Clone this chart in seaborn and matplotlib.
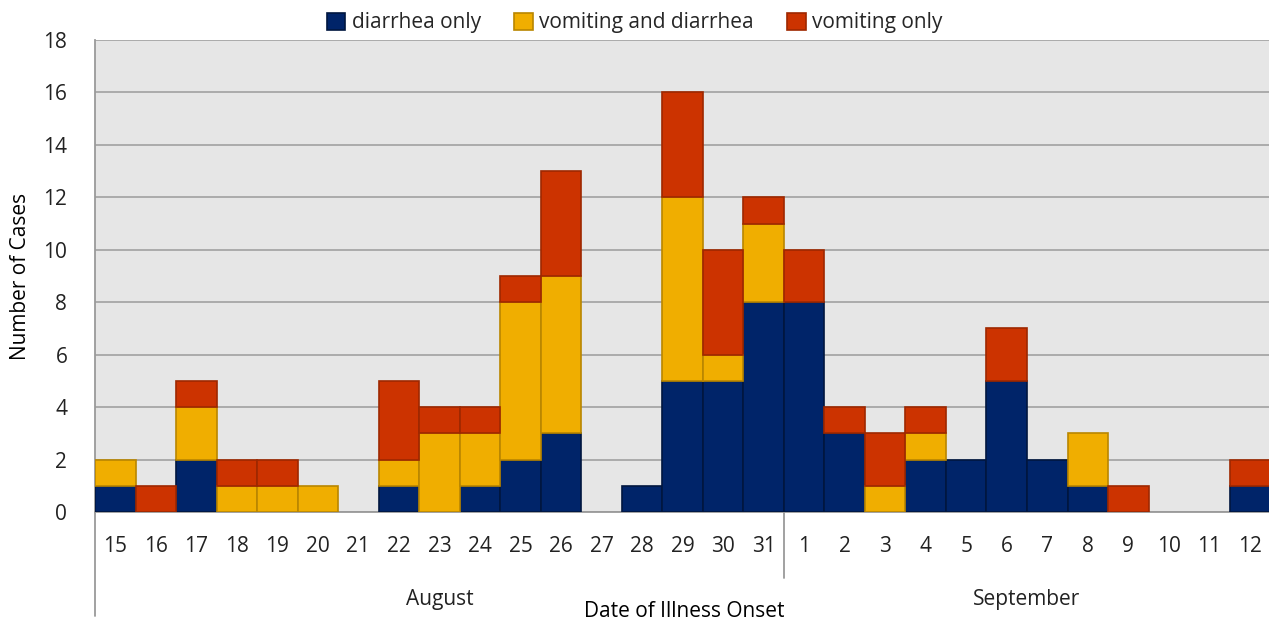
import pandas as pd
import matplotlib.pyplot as plt
import seaborn as sns

# onset days (August 15-31, September 1-12)
aug_days = [15, 16, 17, 18, 19, 20, 21, 22, 23, 24, 25, 26, 27, 28, 29, 30, 31]
sep_days = [1, 2, 3, 4, 5, 6, 7, 8, 9, 10, 11, 12]

diarrhea_only = [1, 0, 2, 0, 0, 0, 0, 1, 0, 1, 2, 3, 0, 1, 5, 5, 8,
                 8, 3, 0, 2, 2, 5, 2, 1, 0, 0, 0, 1]
vomit_and_diarrhea = [1, 0, 2, 1, 1, 1, 0, 1, 3, 2, 6, 6, 0, 0, 7, 1, 3,
                      0, 0, 1, 1, 0, 0, 0, 2, 0, 0, 0, 0]
vomit_only = [0, 1, 1, 1, 1, 0, 0, 3, 1, 1, 1, 4, 0, 0, 4, 4, 1,
              2, 1, 2, 1, 0, 2, 0, 0, 1, 0, 0, 1]

dates = [f"Aug {d}" for d in aug_days] + [f"Sep {d}" for d in sep_days]
tick_labels = [str(d) for d in aug_days + sep_days]

df = pd.DataFrame({
    "date": dates,
    "diarrhea only": diarrhea_only,
    "vomiting and diarrhea": vomit_and_diarrhea,
    "vomiting only": vomit_only,
})

sns.set_theme(style="white")
plt.rcParams["font.family"] = ["Open Sans", "DejaVu Sans"]

fig = plt.figure(figsize=(12.69, 6.21), dpi=100)
ax = fig.add_axes([0.0749, 0.1755, 0.9260, 0.7601])
ax.set_facecolor("#E6E6E6")

series = [
    ("diarrhea only", "#002469", "#00163F"),
    ("vomiting and diarrhea", "#F0AE00", "#B98600"),
    ("vomiting only", "#CC3300", "#9E2800"),
]

bottom = [0] * len(df)
for name, color, edge in series:
    sns.barplot(data=df, x="date", y=name, order=dates, color=color,
                edgecolor=edge, linewidth=1.2, width=1.0, bottom=bottom,
                saturation=1, ax=ax, label=name, zorder=3)
    bottom = [b + v for b, v in zip(bottom, df[name])]

handles, labels = ax.get_legend_handles_labels()
fig.legend(handles, labels, loc="center", bbox_to_anchor=(0.5, 0.963),
           ncol=3, frameon=False, fontsize=15, handlelength=0.9,
           handleheight=0.9, handletextpad=0.3, columnspacing=1.6)
if ax.get_legend():
    ax.get_legend().remove()

# hide empty segments so no outline shows for zero counts
for p in ax.patches:
    if p.get_height() == 0:
        p.set_visible(False)

ax.set_xlim(-0.5, len(dates) - 0.5)
ax.set_ylim(0, 18)
ax.set_yticks(range(0, 19, 2))
ax.yaxis.grid(True, color="#A6A6A6", linewidth=1.3, zorder=0)
ax.set_axisbelow(True)

ax.set_xticks(range(len(dates)))
ax.set_xticklabels(tick_labels, fontsize=15, color="#222222")
ax.tick_params(axis="x", length=0, pad=17)
ax.tick_params(axis="y", length=0, pad=20, labelsize=15, labelcolor="#222222")
ax.set_xlabel("")
ax.set_ylabel("")

for s in ["top", "right"]:
    ax.spines[s].set_visible(False)
for s in ["left", "bottom"]:
    ax.spines[s].set_color("#9A9A9A")
    ax.spines[s].set_linewidth(1.3)

# month group separators below the axis
trans = ax.get_xaxis_transform()
ax.plot([-0.5, -0.5], [0, -0.22], color="#9A9A9A", lw=1.3,
        transform=trans, clip_on=False)
ax.plot([len(aug_days) - 0.5] * 2, [0, -0.14], color="#9A9A9A", lw=1.3,
        transform=trans, clip_on=False)
ax.text((len(aug_days) - 1) / 2, -0.185, "August", transform=trans,
        ha="center", va="center", fontsize=15, color="#222222")
ax.text(len(aug_days) + (len(sep_days) - 1) / 2, -0.185, "September",
        transform=trans, ha="center", va="center", fontsize=15, color="#222222")

fig.text(0.539, -0.002, "Date of Illness Onset", ha="center", va="bottom",
         fontsize=15, color="black")
fig.text(0.016, 0.5555, "Number of Cases", rotation=90, ha="center",
         va="center", fontsize=15, color="black")

fig.savefig("out.png", dpi=100)
